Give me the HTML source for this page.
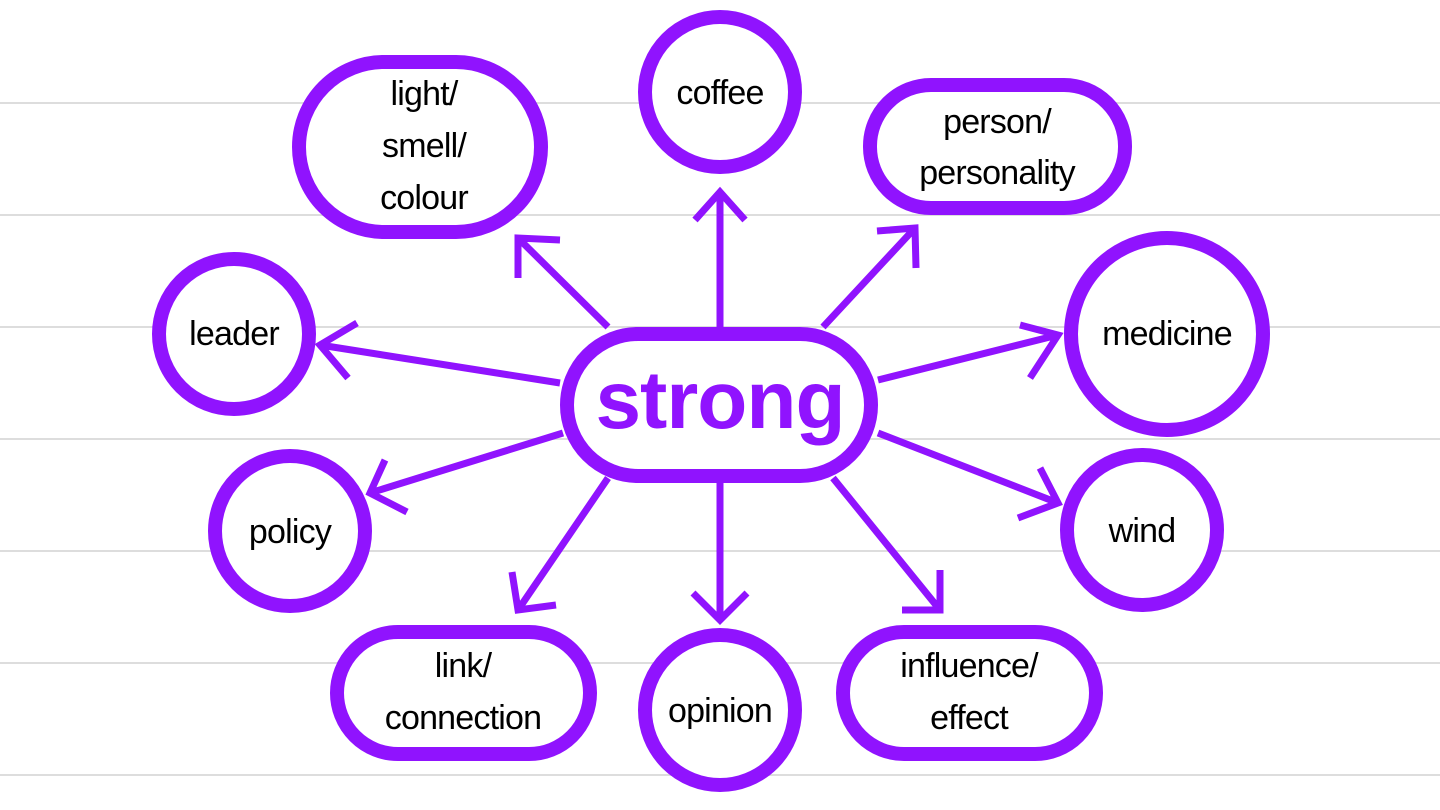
<!DOCTYPE html>
<html><head><meta charset="utf-8"><style>
html,body{margin:0;padding:0;background:#fff;width:1440px;height:810px;overflow:hidden}
text{font-family:"Liberation Sans","DejaVu Sans",sans-serif;font-size:34px;letter-spacing:-0.8px;fill:#000;text-anchor:middle}
</style></head><body>
<svg width="1440" height="810" viewBox="0 0 1440 810" xmlns="http://www.w3.org/2000/svg">
<g stroke="#dddddd" stroke-width="2">
<line x1="0" y1="103" x2="1440" y2="103"/><line x1="0" y1="215" x2="1440" y2="215"/>
<line x1="0" y1="327" x2="1440" y2="327"/><line x1="0" y1="439" x2="1440" y2="439"/>
<line x1="0" y1="551" x2="1440" y2="551"/><line x1="0" y1="663" x2="1440" y2="663"/>
<line x1="0" y1="775" x2="1440" y2="775"/>
</g>
<g stroke="#9013fe" stroke-width="7" fill="none" stroke-linecap="butt">
<path d="M720 327V192M695 220L720 192L745 220"/>
<path d="M823 327L915 228M877 231L915 228L916 268"/>
<path d="M878 380L1058 335M1020 325L1058 335L1030 378"/>
<path d="M878 433L1058 503M1040 468L1058 503L1018 518"/>
<path d="M833 478L940 610M940 570L940 610L902 610"/>
<path d="M720 483V620M693 593L720 620L747 593"/>
<path d="M608 478L518 610M512 572L518 610L556 605"/>
<path d="M563 433L370 493M385 460L370 493L407 512"/>
<path d="M560 383L320 345M357 323L320 345L348 378"/>
<path d="M608 327L518 238M518 278L518 238L560 240"/>
</g>
<g stroke="#9013fe" stroke-width="14" fill="#fff">
<rect x="567" y="334" width="304" height="142" rx="71"/>
<rect x="299" y="62" width="242" height="170" rx="85"/>
<circle cx="720" cy="92" r="75"/>
<rect x="870" y="85" width="255" height="123" rx="61"/>
<circle cx="234" cy="334" r="75"/>
<circle cx="1167" cy="334" r="96"/>
<circle cx="290" cy="531" r="75"/>
<circle cx="1142" cy="530" r="75"/>
<rect x="337" y="632" width="253" height="122" rx="61"/>
<circle cx="720" cy="710" r="75"/>
<rect x="843" y="632" width="253" height="122" rx="61"/>
</g>
<text x="720" y="428" style="font-size:82px;letter-spacing:-1px;fill:#9013fe;font-weight:bold">strong</text>
<text x="424" y="105">light/</text><text x="424" y="157">smell/</text><text x="424" y="209">colour</text>
<text x="720" y="104">coffee</text>
<text x="997" y="133">person/</text><text x="997" y="184">personality</text>
<text x="234" y="345">leader</text>
<text x="1167" y="345">medicine</text>
<text x="290" y="543">policy</text>
<text x="1142" y="542">wind</text>
<text x="463" y="677">link/</text><text x="463" y="729">connection</text>
<text x="720" y="722">opinion</text>
<text x="969" y="677">influence/</text><text x="969" y="729">effect</text>
</svg>
</body></html>
